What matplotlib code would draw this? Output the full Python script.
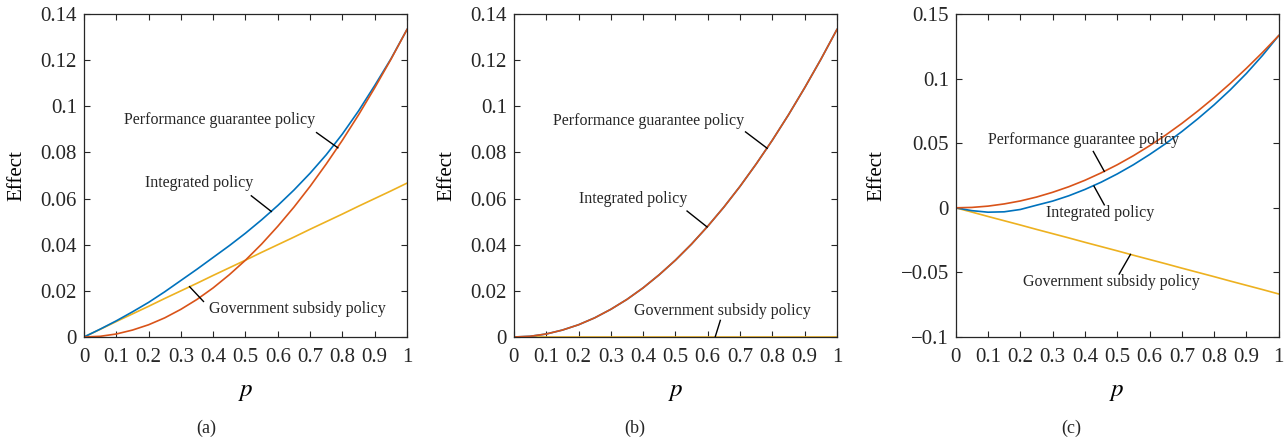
import matplotlib.pyplot as plt

plt.rcParams['font.family'] = ['Liberation Serif', 'DejaVu Serif']
plt.rcParams['mathtext.fontset'] = 'stix'

p = [0.0, 0.05, 0.1, 0.15, 0.2, 0.25, 0.3, 0.35, 0.4, 0.45, 0.5,
     0.55, 0.6, 0.65, 0.7, 0.75, 0.8, 0.85, 0.9, 0.95, 1.0]

# (a)
a_perf = [0, 0.0003, 0.0013, 0.0030, 0.0053, 0.0083, 0.0120, 0.0163, 0.0213, 0.0270, 0.0333,
          0.0403, 0.0480, 0.0563, 0.0653, 0.0750, 0.0853, 0.0963, 0.1080, 0.1203, 0.1333]
a_integ = [0, 0.0034, 0.0070, 0.0109, 0.0150, 0.0196, 0.0245, 0.0294, 0.0345, 0.0396, 0.0450,
           0.0508, 0.0570, 0.0637, 0.0710, 0.0790, 0.0880, 0.0980, 0.1090, 0.1205, 0.1333]
a_gov = [0, 0.0033, 0.0067, 0.0100, 0.0133, 0.0167, 0.0200, 0.0233, 0.0267, 0.0300, 0.0333,
         0.0367, 0.0400, 0.0433, 0.0467, 0.0500, 0.0533, 0.0567, 0.0600, 0.0633, 0.0667]

# (b)
b_perf = list(a_perf)
b_integ = list(a_perf)
b_gov = [0] * 21

# (c)
c_perf = list(a_perf)
c_integ = [0, -0.0022, -0.0034, -0.0031, -0.0013, 0.0020, 0.0052, 0.0093, 0.0142, 0.0198, 0.0262,
           0.0333, 0.0412, 0.0497, 0.0590, 0.0690, 0.0797, 0.0913, 0.1040, 0.1180, 0.1333]
c_gov = [0, -0.0033, -0.0067, -0.0100, -0.0133, -0.0167, -0.0200, -0.0233, -0.0267, -0.0300, -0.0333,
         -0.0367, -0.0400, -0.0433, -0.0467, -0.0500, -0.0533, -0.0567, -0.0600, -0.0633, -0.0667]

xticks = [0, 0.1, 0.2, 0.3, 0.4, 0.5, 0.6, 0.7, 0.8, 0.9, 1]
xticklabels = ['0', '0.1', '0.2', '0.3', '0.4', '0.5', '0.6', '0.7', '0.8', '0.9', '1']
ab_yticks = [0, 0.02, 0.04, 0.06, 0.08, 0.1, 0.12, 0.14]
ab_yticklabels = ['0', '0.02', '0.04', '0.06', '0.08', '0.1', '0.12', '0.14']
c_yticks = [-0.1, -0.05, 0, 0.05, 0.1, 0.15]
c_yticklabels = ['\u22120.1', '\u22120.05', '0', '0.05', '0.1', '0.15']

blue = '#0072BD'
red = '#D95319'
yellow = '#EDB120'

names = ['Performance guarantee policy', 'Integrated policy', 'Government subsidy policy']

# text position, leader line start, leader line end (data coords)
a_notes = [((0.42, 0.094), (0.72, 0.0886), (0.786, 0.0820)),
           ((0.356, 0.0667), (0.518, 0.0612), (0.58, 0.0544)),
           ((0.66, 0.0121), (0.37, 0.0154), (0.327, 0.0218))]
b_notes = [((0.417, 0.0937), (0.717, 0.0889), (0.784, 0.0818)),
           ((0.37, 0.060), (0.536, 0.0546), (0.598, 0.0477)),
           ((0.645, 0.0114), (0.639, 0.0072), (0.623, 0.0))]
c_notes = [((0.397, 0.0526), (0.426, 0.0436), (0.46, 0.0282)),
           ((0.448, -0.0044), (0.46, 0.0023), (0.428, 0.0168)),
           ((0.482, -0.0577), (0.506, -0.0513), (0.541, -0.0361))]

fig = plt.figure(figsize=(12.88, 4.45), dpi=100)
lefts = [0.0652, 0.3990, 0.7420]
panels = [(a_perf, a_integ, a_gov, ab_yticks, ab_yticklabels, (0, 0.14), a_notes, '(a)', 0.160),
          (b_perf, b_integ, b_gov, ab_yticks, ab_yticklabels, (0, 0.14), b_notes, '(b)', 0.493),
          (c_perf, c_integ, c_gov, c_yticks, c_yticklabels, (-0.1, 0.15), c_notes, '(c)', 0.832)]

for left, (perf, integ, gov, yt, ytl, ylim, notes, tag, tagx) in zip(lefts, panels):
    ax = fig.add_axes([left, 0.2427, 0.2508, 0.7258])
    ax.plot(p, gov, color=yellow, lw=1.2)
    ax.plot(p, integ, color=blue, lw=1.2)
    ax.plot(p, perf, color=red, lw=1.2)
    ax.set_xlim(0, 1)
    ax.set_ylim(*ylim)
    ax.set_xticks(xticks)
    ax.set_xticklabels(xticklabels)
    ax.set_yticks(yt)
    ax.set_yticklabels(ytl)
    ax.tick_params(direction='in', length=4, width=0.8, top=True, right=True,
                   labelsize=15, colors='#262626')
    ax.tick_params(axis='x', pad=8)
    ax.tick_params(axis='y', pad=5)
    for s in ax.spines.values():
        s.set_linewidth(0.9)
        s.set_color('#262626')
    ax.set_xlabel('$p$', fontsize=18, labelpad=10)
    ax.set_ylabel('Effect', fontsize=15, labelpad=10)
    for name, (txt, l0, l1) in zip(names, notes):
        ax.text(txt[0], txt[1], name, fontsize=11.5, ha='center', va='center', color='#262626')
        ax.plot([l0[0], l1[0]], [l0[1], l1[1]], color='black', lw=1.0)
    fig.text(tagx, 0.038, tag, fontsize=13, ha='center', va='center', color='#262626')

fig.savefig('out.png', dpi=100)
